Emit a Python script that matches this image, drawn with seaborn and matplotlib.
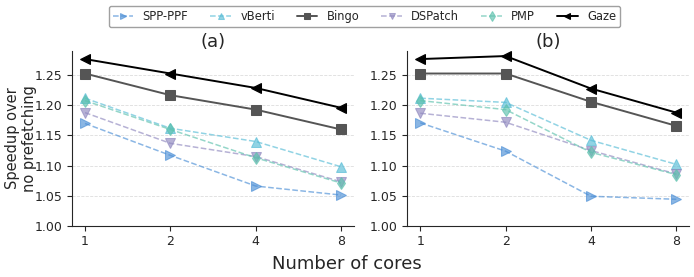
import numpy as np
import pandas as pd
import matplotlib
matplotlib.use('Agg')
import matplotlib.pyplot as plt
import seaborn as sns

# x-axis categories
cores = ['1', '2', '4', '8']
prefetchers = ['SPP-PPF', 'vBerti', 'Bingo', 'DSPatch', 'PMP', 'Gaze']

# panel (a) speedups
a_spp = [1.170, 1.117, 1.066, 1.051]
a_vberti = [1.212, 1.162, 1.140, 1.098]
a_bingo = [1.253, 1.217, 1.193, 1.160]
a_dspatch = [1.188, 1.137, 1.115, 1.073]
a_pmp = [1.208, 1.160, 1.113, 1.071]
a_gaze = [1.277, 1.253, 1.229, 1.196]

# panel (b) speedups
b_spp = [1.171, 1.124, 1.049, 1.044]
b_vberti = [1.212, 1.205, 1.142, 1.102]
b_bingo = [1.253, 1.253, 1.206, 1.166]
b_dspatch = [1.187, 1.172, 1.125, 1.086]
b_pmp = [1.208, 1.193, 1.122, 1.085]
b_gaze = [1.277, 1.282, 1.228, 1.188]

panel_a = [a_spp, a_vberti, a_bingo, a_dspatch, a_pmp, a_gaze]
panel_b = [b_spp, b_vberti, b_bingo, b_dspatch, b_pmp, b_gaze]

# styles per prefetcher
colors = ['#4c8fd6', '#56bcd6', '#555555', '#8f88bf', '#5cc1ad', '#000000']
markers = ['>', '^', 's', 'v', 'd', '<']
dashed = [True, True, False, True, True, False]

sns.set_style('ticks')
plt.rcParams['font.family'] = ['DejaVu Sans']

fig, axes = plt.subplots(1, 2, figsize=(6.94, 2.77), dpi=100)

for ax, panel, title in zip(axes, [panel_a, panel_b], ['(a)', '(b)']):
    for name, vals, c, m, d in zip(prefetchers, panel, colors, markers, dashed):
        df = pd.DataFrame({'x': np.arange(len(cores)), 'y': vals})
        sns.lineplot(data=df, x='x', y='y', ax=ax, color=c, marker=m,
                     markersize=6.5, markeredgecolor=c,
                     linestyle='--' if d else '-',
                     linewidth=1.1 if d else 1.4,
                     alpha=0.65 if d else 1.0, label=name, legend=False)
    ax.set_xticks(np.arange(len(cores)))
    ax.set_xticklabels(cores)
    ax.set_xlim(-0.15, 3.15)
    ax.set_ylim(1.0, 1.29)
    ax.set_yticks([1.00, 1.05, 1.10, 1.15, 1.20, 1.25])
    ax.set_yticklabels(['1.00', '1.05', '1.10', '1.15', '1.20', '1.25'])
    ax.tick_params(labelsize=9)
    ax.grid(axis='y', linestyle='--', color='#dddddd', linewidth=0.6)
    ax.set_title(title, fontsize=13, pad=3)
    ax.set_xlabel('')
    ax.set_ylabel('')
    sns.despine(ax=ax)

axes[0].set_ylabel('Speedup over\nno prefetching', fontsize=10.5)
axes[0].yaxis.set_label_coords(-0.125, 0.5)
fig.supxlabel('Number of cores', fontsize=13, y=0.015)

handles, labels = axes[0].get_legend_handles_labels()
fig.legend(handles, labels, loc='upper center', ncol=6, fontsize=8.3,
           bbox_to_anchor=(0.525, 1.0), frameon=True, edgecolor='#888888',
           fancybox=True, handlelength=1.8, columnspacing=1.9,
           borderpad=0.35, markerscale=0.75)

plt.subplots_adjust(left=0.104, right=0.993, top=0.815, bottom=0.185, wspace=0.19)
plt.savefig('out.png', dpi=100)
